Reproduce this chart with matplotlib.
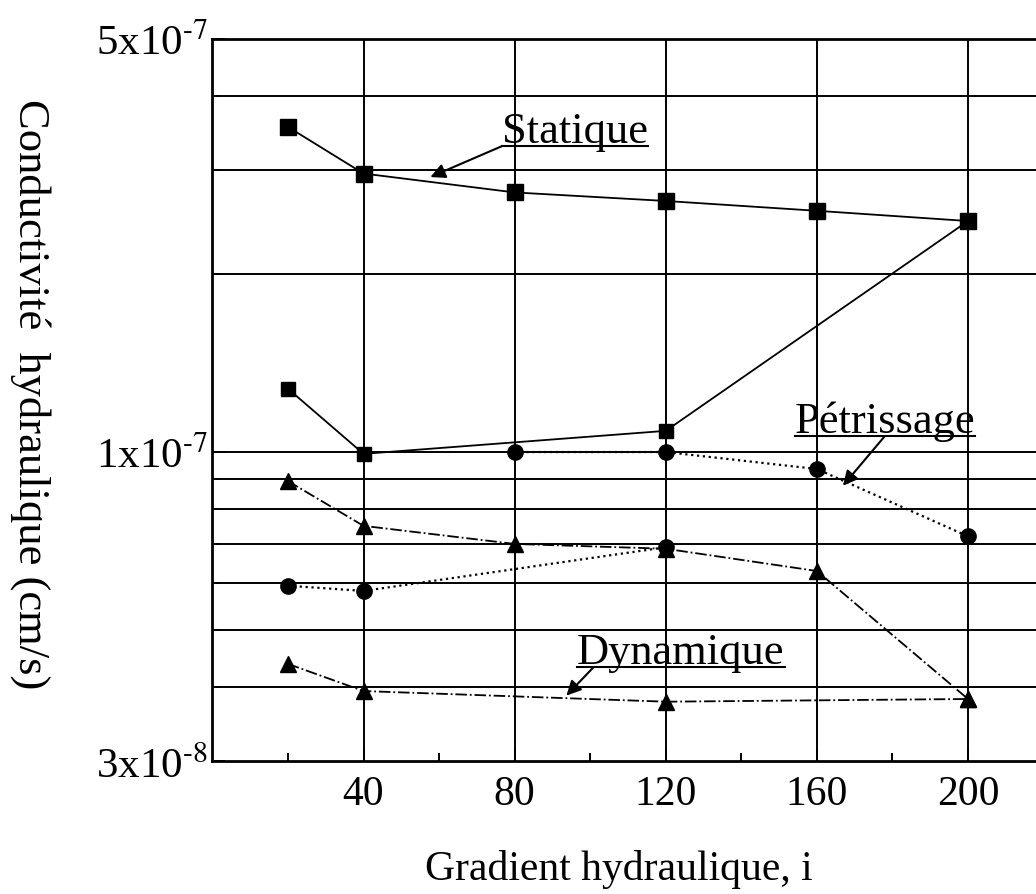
import matplotlib
matplotlib.use("Agg")
import matplotlib.pyplot as plt
from matplotlib.lines import Line2D
from matplotlib.ticker import FixedLocator, NullFormatter

# data
gradient = [20, 40, 80, 120, 160, 200]
statique = [3.55e-7, 2.96e-7, 2.75e-7, 2.66e-7, 2.56e-7, 2.46e-7]

statique2_x = [20, 40, 120, 200]
statique2 = [1.28e-7, 9.93e-8, 1.086e-7, 2.46e-7]

petri_x = [80, 120, 160, 200]
petrissage = [1.0e-7, 1.0e-7, 9.36e-8, 7.2e-8]

petri2_x = [20, 40, 120]
petrissage2 = [5.94e-8, 5.82e-8, 6.9e-8]

dynamique = [8.93e-8, 7.5e-8, 6.99e-8, 6.86e-8, 6.29e-8, 3.82e-8]

dyn2_x = [20, 40, 120, 200]
dynamique2 = [4.38e-8, 3.94e-8, 3.78e-8, 3.82e-8]

xticks = [40, 80, 120, 160, 200]
yticks = [3e-8, 1e-7, 5e-7]
ytick_labels = [r"3x10$^{\text{-}8}$", r"1x10$^{\text{-}7}$", r"5x10$^{\text{-}7}$"]
ygrid = [4e-8, 5e-8, 6e-8, 7e-8, 8e-8, 9e-8, 1e-7, 2e-7, 3e-7, 4e-7]

# curve labels: text, baseline position, arrow tip, where the arrow leaves the underline
curve_labels = ["Statique", "Pétrissage", "Dynamique"]
label_pos = [(96, 3.346e-7), (178, 1.081e-7), (124, 4.395e-8)]
arrow_tips = [(57.7, 2.92e-7), (166.9, 8.77e-8), (93.7, 3.87e-8)]
arrow_from = [0.0, 0.5, 0.08]

plt.rcParams["font.family"] = ["Liberation Serif", "DejaVu Serif"]
plt.rcParams["mathtext.fontset"] = "stix"

fig = plt.figure(figsize=(10.36, 8.95), dpi=100)
ax = fig.add_axes([0.205, 0.1486, 0.795, 0.8067])
ax.set_yscale("log")
ax.set_xlim(0, 218)
ax.set_ylim(3e-8, 5e-7)

# grid
for g in ygrid:
    ax.axhline(g, color="black", lw=1.4, zorder=1)
for g in xticks:
    ax.axvline(g, color="black", lw=1.4, zorder=1)

ms = 11
ax.plot(gradient, statique, "-", color="black", lw=1.3, marker="s", ms=ms, zorder=3)
ax.plot(statique2_x, statique2, "-", color="black", lw=1.3, marker="s", ms=ms - 1, zorder=3)
ax.plot(petri_x, petrissage, ":", color="black", lw=1.6, marker="o", ms=ms, zorder=3)
ax.plot(petri2_x, petrissage2, ":", color="black", lw=1.6, marker="o", ms=ms, zorder=3)
ax.plot(gradient, dynamique, "-.", color="black", lw=1.3, marker="^", ms=ms + 1, zorder=3)
ax.plot(dyn2_x, dynamique2, "-.", color="black", lw=1.3, marker="^", ms=ms + 1, zorder=3)

# ticks
ax.yaxis.set_major_locator(FixedLocator(yticks))
ax.yaxis.set_minor_locator(FixedLocator(ygrid))
ax.yaxis.set_minor_formatter(NullFormatter())
ax.set_yticklabels(ytick_labels)
ax.set_xticks(xticks)
ax.set_xticks([20, 60, 100, 140, 180], minor=True)
ax.tick_params(axis="both", which="both", direction="in", width=1.4)
ax.tick_params(axis="x", labelsize=30, pad=10)
ax.tick_params(axis="y", labelsize=31, pad=3)
ax.tick_params(axis="both", which="major", length=9)
ax.tick_params(axis="both", which="minor", length=6)

for side in ["left", "bottom", "top"]:
    ax.spines[side].set_linewidth(2)
ax.spines["right"].set_visible(False)

ax.set_xlabel("Gradient hydraulique, i", fontsize=30, va="baseline")
ax.xaxis.set_label_coords(0.493, -0.1634)
ax.set_ylabel("Conductivité  hydraulique (cm/s)", fontsize=32, rotation=270,
              va="center", ha="center")
ax.yaxis.set_label_coords(-0.221, 0.51)

texts = []
for s, (x, y) in zip(curve_labels, label_pos):
    texts.append(ax.text(x, y, s, fontsize=32, ha="center", va="baseline", zorder=4))

# underline each label, arrow leaves from the rule
fig.canvas.draw()
arrow = dict(arrowstyle="-|>", color="black", lw=1.5, mutation_scale=22,
             shrinkA=0, shrinkB=0)
for t, (x, y), tip, f in zip(texts, label_pos, arrow_tips, arrow_from):
    bb = t.get_window_extent()
    base = ax.transData.transform((x, y))[1] - 4
    fig.add_artist(Line2D([bb.x0, bb.x1], [base, base], transform=None,
                          color="black", lw=1.5))
    start = (bb.x0 + f * bb.width, base)
    ax.annotate("", xy=tip, xycoords="data", xytext=start,
                textcoords="figure pixels", arrowprops=arrow)

fig.savefig("out.png", dpi=100)
